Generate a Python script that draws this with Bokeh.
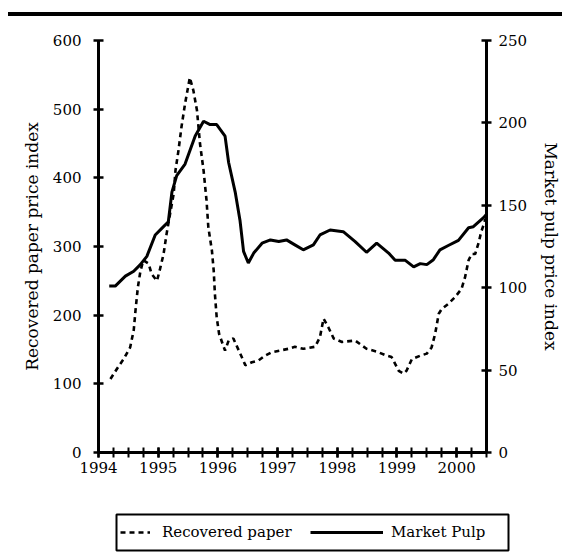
from bokeh.plotting import figure
from bokeh.models import (Range1d, LinearAxis, FixedTicker, Legend, LegendItem, Div)
from bokeh.layouts import column, row
from bokeh.embed import file_html
from bokeh.resources import INLINE

# ---- data (decimal years, index values) ----
pulp_x = [1994.18, 1994.28, 1994.45, 1994.59, 1994.70, 1994.81, 1994.95, 1995.06,
          1995.17, 1995.23, 1995.31, 1995.45, 1995.62, 1995.76, 1995.87, 1995.98,
          1996.12, 1996.18, 1996.29, 1996.37, 1996.43, 1996.51, 1996.60, 1996.74,
          1996.88, 1997.02, 1997.15, 1997.29, 1997.43, 1997.60, 1997.71, 1997.88,
          1998.10, 1998.30, 1998.49, 1998.66, 1998.86, 1998.97, 1999.14, 1999.28,
          1999.39, 1999.50, 1999.61, 1999.72, 1999.86, 2000.03, 2000.20, 2000.28,
          2000.45, 2000.50]
pulp_y = [101, 101, 107, 110, 114, 119, 132, 136,
          140, 158, 168, 175, 192, 201, 199, 199,
          192, 176, 158, 141, 122, 115, 121, 127,
          129, 128, 129, 126, 123, 126, 132, 135,
          134, 128, 121.5, 127, 121, 116.6, 116.6, 112.6,
          114.6, 114, 117, 123, 125.6, 128.7, 136.4, 137,
          142.5, 144.5]

paper_x = [1994.20, 1994.31, 1994.42, 1994.53, 1994.59, 1994.62, 1994.66, 1994.70,
           1994.75, 1994.84, 1994.89, 1994.98, 1995.03, 1995.09, 1995.14, 1995.20,
           1995.26, 1995.29, 1995.34, 1995.39, 1995.45, 1995.49, 1995.53, 1995.59,
           1995.65, 1995.70, 1995.76, 1995.81, 1995.84, 1995.90, 1995.93, 1995.95,
           1995.98, 1996.02, 1996.08, 1996.12, 1996.18, 1996.26, 1996.35, 1996.40,
           1996.46, 1996.57, 1996.68, 1996.79, 1996.90, 1997.04, 1997.18, 1997.29,
           1997.43, 1997.63, 1997.71, 1997.77, 1997.85, 1997.94, 1998.08, 1998.30,
           1998.38, 1998.49, 1998.66, 1998.83, 1998.91, 1999.03, 1999.11, 1999.16,
           1999.25, 1999.39, 1999.50, 1999.58, 1999.64, 1999.70, 1999.75, 1999.86,
           1999.97, 2000.08, 2000.14, 2000.20, 2000.25, 2000.31, 2000.37, 2000.41,
           2000.45, 2000.48]
paper_y = [107, 122, 136, 153, 178, 207, 241, 263,
           280, 275, 260, 250, 267, 289, 318, 348,
           377, 411, 440, 474, 508, 527, 546, 527,
           498, 450, 411, 367, 328, 294, 265, 231,
           197, 173, 158, 148.5, 163, 166, 148.5, 139,
           127, 131.5, 134, 141, 146, 148.5, 151, 154,
           151, 154, 168, 195, 182.5, 166, 161, 163,
           158, 151, 147, 141, 139, 119, 115, 119,
           136, 141, 144, 153, 173, 202, 209, 216.5,
           226, 238, 255, 280, 289, 289, 306, 321,
           331, 340]

year_labels = ["1994", "1995", "1996", "1997", "1998", "1999", "2000"]
left_ticks = [0, 100, 200, 300, 400, 500, 600]
right_ticks = [0, 50, 100, 150, 200, 250]
series_names = ["Recovered paper", "Market Pulp"]

FONT = "DejaVu Serif"
DASH = "5 4"

p = figure(frame_width=388, frame_height=412,
           x_range=Range1d(1994, 2000.5), y_range=Range1d(0, 600),
           output_backend="svg", toolbar_location=None,
           min_border_left=98, min_border_right=66, min_border_top=24,
           min_border_bottom=50, outline_line_color=None)
p.extra_y_ranges = {"pulp": Range1d(0, 250)}
p.xgrid.visible = False
p.ygrid.visible = False

p.line(paper_x, paper_y, line_color="black", line_width=2.6, line_dash=DASH)
p.line(pulp_x, pulp_y, line_color="black", line_width=3, y_range_name="pulp")

# x axis
xa = p.xaxis[0]
years = [int(y) for y in year_labels]
quarters = [1994 + 0.25 * i for i in range(27)]
xa.ticker = FixedTicker(ticks=years, minor_ticks=quarters)
xa.major_label_overrides = {y: s for y, s in zip(years, year_labels)}

# left axis
ya = p.yaxis[0]
ya.ticker = FixedTicker(ticks=left_ticks)
ya.axis_label = "Recovered paper price index"

# right axis
ra = LinearAxis(y_range_name="pulp", ticker=FixedTicker(ticks=right_ticks),
                axis_label="Market pulp price index")
p.add_layout(ra, "right")

for ax in (xa, ya, ra):
    ax.axis_line_width = 3
    ax.axis_line_color = "black"
    ax.major_tick_in = 5
    ax.major_tick_out = 5
    ax.major_tick_line_width = 2.5
    ax.major_tick_line_color = "black"
    ax.minor_tick_in = 5
    ax.minor_tick_out = 5
    ax.minor_tick_line_width = 2
    ax.minor_tick_line_color = "black"
    ax.major_label_text_font = FONT
    ax.major_label_text_font_size = "15px"
    ax.major_label_text_color = "black"
    ax.axis_label_text_font = FONT
    ax.axis_label_text_font_size = "17px"
    ax.axis_label_text_font_style = "normal"
    ax.axis_label_text_color = "black"
ya.minor_tick_line_color = None
ra.minor_tick_line_color = None
ya.major_label_standoff = 12
ra.major_label_standoff = 7
ya.axis_label_standoff = 8
ra.axis_label_standoff = 11
xa.major_label_standoff = 4

# ---- legend strip (boxed); its lines use the same arrays but lie off-frame ----
lg = figure(frame_width=392, frame_height=36, x_range=Range1d(0, 1),
            y_range=Range1d(0, 1), x_axis_type=None, y_axis_type=None,
            output_backend="svg", toolbar_location=None,
            min_border_left=116, min_border_right=40, min_border_top=12,
            min_border_bottom=2, outline_line_color="black",
            outline_line_width=2)
lg.xgrid.visible = False
lg.ygrid.visible = False
k_paper = lg.line(paper_x, paper_y, line_color="black", line_width=2.6,
                  line_dash=DASH)
k_pulp = lg.line(pulp_x, pulp_y, line_color="black", line_width=3)

common = dict(orientation="horizontal", border_line_color=None,
              background_fill_alpha=0, padding=0, margin=0,
              label_text_font=FONT, label_text_font_size="15px",
              label_text_color="black", glyph_height=20, label_height=20)
leg1 = Legend(items=[LegendItem(label=series_names[0], renderers=[k_paper])],
              location=(4, 8), glyph_width=30, label_standoff=12, **common)
leg2 = Legend(items=[LegendItem(label=series_names[1], renderers=[k_pulp])],
              location=(194, 8), glyph_width=73, label_standoff=8, **common)
lg.add_layout(leg1, "center")
lg.add_layout(leg2, "center")

bar = Div(text="", width=554, height=4, margin=(12, 0, 0, 8),
          styles={"background-color": "black"})

layout = column(bar, p, row(lg), spacing=0)
open("out.html", "w").write(file_html(layout, INLINE))
